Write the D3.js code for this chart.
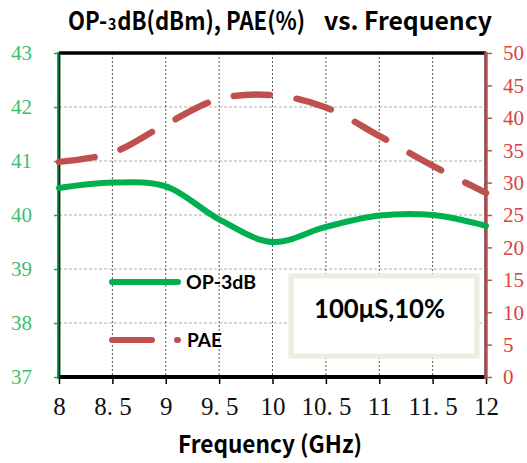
<!DOCTYPE html>
<html><head><meta charset="utf-8">
<script src="https://cdn.jsdelivr.net/npm/d3@7"></script>
<style>body{margin:0;background:#fff}svg{display:block}</style>
</head><body>
<svg id="c" width="527" height="463"></svg>
<script>
const freq = [8, 8.5, 9, 9.5, 10, 10.5, 11, 11.5, 12];
const op3dB = [40.5, 40.6, 40.53, 39.92, 39.5, 39.78, 39.99, 40.0, 39.8];
const pae = [33.2, 34.6, 39.0, 42.9, 43.5, 41.6, 37.2, 32.6, 28.4];
const xTicks = [8, 8.5, 9, 9.5, 10, 10.5, 11, 11.5, 12];
const xTickLabels = ["8", "8. 5", "9", "9. 5", "10", "10. 5", "11", "11. 5", "12"];
const yLeftTicks = [37, 38, 39, 40, 41, 42, 43];
const yRightTicks = [0, 5, 10, 15, 20, 25, 30, 35, 40, 45, 50];
const legendNames = ["OP-3dB", "PAE"];
const noteText = "100μS,10%";

const svg = d3.select("#c");
const L = 59, R = 486, T = 53, B = 377;
const x = d3.scaleLinear().domain([8, 12]).range([L, R]);
const yL = d3.scaleLinear().domain([37, 43]).range([B, T]);
const yR = d3.scaleLinear().domain([0, 50]).range([B, T]);
const green = "#00b050", red = "#c0504d";
const serif = "'Liberation Serif','DejaVu Serif',serif";
const bold = "'Noto Sans CJK SC','Noto Sans',sans-serif";

// grid
svg.append("g").selectAll("line").data(yLeftTicks.filter(d => d > 37 && d < 43)).join("line")
  .attr("x1", L).attr("x2", R).attr("y1", d => yL(d)).attr("y2", d => yL(d))
  .attr("stroke", "#c8c8c8").attr("stroke-width", 1.3).attr("stroke-dasharray", "3,2");
svg.append("g").selectAll("line").data(xTicks.filter(d => d > 8 && d < 12)).join("line")
  .attr("x1", d => x(d)).attr("x2", d => x(d)).attr("y1", T).attr("y2", B)
  .attr("stroke", "#555").attr("stroke-width", 1).attr("stroke-dasharray", "2,2");

// frame top / bottom
svg.append("line").attr("x1", L).attr("x2", R).attr("y1", T).attr("y2", T).attr("stroke", "#000").attr("stroke-width", 3.5);
svg.append("line").attr("x1", L).attr("x2", R).attr("y1", B).attr("y2", B).attr("stroke", "#000").attr("stroke-width", 4);

// x axis ticks & labels
const xa = svg.append("g").attr("transform", `translate(0,${B})`)
  .call(d3.axisBottom(x).tickValues(xTicks).tickSize(7).tickFormat((d, i) => xTickLabels[i]));
xa.select(".domain").remove();
xa.selectAll(".tick line").attr("stroke", "#000").attr("stroke-width", 1.5);
xa.selectAll(".tick text").attr("font-family", serif).attr("font-size", 25).attr("fill", "#111").attr("dy", null).attr("y", 38);

// left axis
const la = svg.append("g").attr("transform", `translate(${L},0)`)
  .call(d3.axisLeft(yL).tickValues(yLeftTicks).tickSize(5).tickFormat(d3.format("d")));
la.select(".domain").remove();
la.selectAll(".tick line").attr("stroke", green).attr("stroke-width", 1.5);
la.selectAll(".tick text").attr("font-family", serif).attr("font-size", 21).attr("fill", "#3cbf6e").attr("x", -27).attr("dy", "0.33em");
svg.append("line").attr("x1", L - 0.5).attr("x2", L - 0.5).attr("y1", T - 1).attr("y2", B + 2).attr("stroke", green).attr("stroke-width", 3);
svg.append("line").attr("x1", L + 0.5).attr("x2", L + 0.5).attr("y1", T - 1).attr("y2", B + 2).attr("stroke", "#0a2a14").attr("stroke-width", 1.8);

// right axis
const ra = svg.append("g").attr("transform", `translate(${R},0)`)
  .call(d3.axisRight(yR).tickValues(yRightTicks).tickSize(6).tickFormat(d3.format("d")));
ra.select(".domain").remove();
ra.selectAll(".tick line").attr("stroke", red).attr("stroke-width", 1.5);
ra.selectAll(".tick text").attr("font-family", serif).attr("font-size", 21).attr("fill", "#d9413f").attr("x", 17).attr("dy", "0.33em");
svg.append("line").attr("x1", R).attr("x2", R).attr("y1", T - 1).attr("y2", B + 2).attr("stroke", red).attr("stroke-width", 3.5);
svg.append("line").attr("x1", R - 1).attr("x2", R - 1).attr("y1", T - 1).attr("y2", B + 2).attr("stroke", "#555").attr("stroke-width", 1);

// series
const lineL = d3.line().x((d, i) => x(freq[i])).y(d => yL(d)).curve(d3.curveCatmullRom.alpha(0.5));
const lineR = d3.line().x((d, i) => x(freq[i])).y(d => yR(d)).curve(d3.curveCatmullRom.alpha(0.5));
svg.append("path").attr("d", lineR(pae)).attr("fill", "none").attr("stroke", red)
  .attr("stroke-width", 6.5).attr("stroke-linecap", "round").attr("stroke-dasharray", "36,27");
svg.append("path").attr("d", lineL(op3dB)).attr("fill", "none").attr("stroke", green)
  .attr("stroke-width", 6).attr("stroke-linecap", "round");

// legend
svg.append("line").attr("x1", 112).attr("x2", 178).attr("y1", 282).attr("y2", 282)
  .attr("stroke", green).attr("stroke-width", 6).attr("stroke-linecap", "round");
svg.append("line").attr("x1", 112).attr("x2", 178).attr("y1", 340).attr("y2", 340)
  .attr("stroke", red).attr("stroke-width", 6).attr("stroke-linecap", "round").attr("stroke-dasharray", "40,25");
svg.append("text").attr("x", 186).attr("y", 289).text(legendNames[0])
  .attr("font-family", "Lato,'Open Sans',sans-serif").attr("font-weight", "bold").attr("font-size", 19)
  .attr("textLength", 70).attr("lengthAdjust", "spacingAndGlyphs");
svg.append("text").attr("x", 187).attr("y", 347).text(legendNames[1])
  .attr("font-family", "Lato,'Open Sans',sans-serif").attr("font-weight", "bold").attr("font-size", 19)
  .attr("textLength", 35).attr("lengthAdjust", "spacingAndGlyphs");

// note box
svg.append("rect").attr("x", 291).attr("y", 276).attr("width", 186).attr("height", 80)
  .attr("fill", "#fff").attr("stroke", "#eeebe2").attr("stroke-width", 5);
svg.append("text").attr("x", 314).attr("y", 318).text(noteText)
  .attr("font-family", "Lato,'Open Sans',sans-serif").attr("font-weight", "bold").attr("font-size", 26)
  .attr("textLength", 131).attr("lengthAdjust", "spacingAndGlyphs");

// title: first part laid out piecewise then squeezed to fit 68..305
const tg = svg.append("g").attr("font-family", bold).attr("font-weight", "bold");
let tx = 0;
[["OP-", 25], ["3", 16], ["dB(dBm), PAE(%)", 25]].forEach(([s, fs]) => {
  const t = tg.append("text").attr("x", tx).attr("y", 30).attr("font-size", fs).text(s);
  tx += t.node().getComputedTextLength() + 1;
});
const sx = Math.min(1, 238 / tx);
tg.attr("transform", `translate(68,0) scale(${sx},1)`);
svg.append("text").attr("x", 492).attr("y", 30).attr("font-size", 25).attr("text-anchor", "end")
  .attr("font-family", bold).attr("font-weight", "bold").attr("textLength", 168).attr("lengthAdjust", "spacingAndGlyphs").text("vs. Frequency");

// x axis title
svg.append("text").attr("x", 178).attr("y", 453).text("Frequency (GHz)")
  .attr("font-family", bold).attr("font-weight", "bold").attr("font-size", 24)
  .attr("textLength", 184).attr("lengthAdjust", "spacingAndGlyphs");
</script>
</body></html>
